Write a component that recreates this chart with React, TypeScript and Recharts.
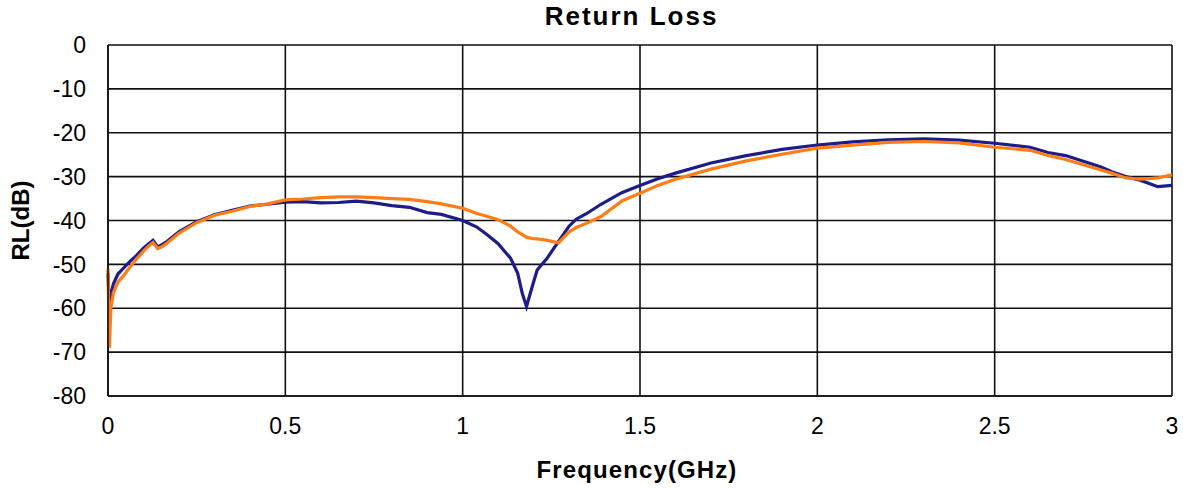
import { CartesianGrid, Line, LineChart, XAxis, YAxis } from "recharts";

const freqGHz = [
  0, 0.004, 0.008, 0.015, 0.028, 0.042, 0.062, 0.08, 0.1, 0.115, 0.127, 0.14, 0.152, 0.166, 0.2,
  0.25, 0.3, 0.35, 0.4, 0.45, 0.5, 0.55, 0.6, 0.65, 0.7, 0.75, 0.8, 0.85, 0.9, 0.94, 1.0, 1.04,
  1.07, 1.1, 1.135, 1.155, 1.168, 1.18, 1.196, 1.21, 1.238, 1.27, 1.3, 1.32, 1.35, 1.39, 1.45,
  1.5, 1.55, 1.6, 1.7, 1.8, 1.9, 2.0, 2.1, 2.2, 2.3, 2.4, 2.5, 2.6, 2.65, 2.7, 2.8, 2.83, 2.87,
  2.91, 2.96, 3.0,
];

const rlBlue = [
  -52, -60, -57, -54.5, -52.2, -51, -49.3, -48, -46.3, -45.3, -44.5, -46, -45.5, -44.8, -42.6,
  -40.3, -38.7, -37.7, -36.7, -36.3, -35.8, -35.7, -36, -35.9, -35.6, -36, -36.6, -37, -38.2,
  -38.6, -40, -41.5, -43.3, -45.3, -48.6, -52, -56.6, -59.6, -55.1, -51.3, -48.6, -44.8, -41.3,
  -39.7, -38.4, -36.3, -33.6, -32, -30.5, -29.2, -26.9, -25.2, -23.8, -22.8, -22.1, -21.6,
  -21.4, -21.7, -22.4, -23.3, -24.5, -25.2, -27.8, -28.9, -30, -30.8, -32.3, -32,
];

const rlOrange = [
  -51, -69, -60, -56.5, -54, -52.8, -50.6, -48.8, -47, -45.8, -45, -46.4, -46, -45.2, -42.9,
  -40.5, -38.8, -37.9, -36.8, -36.2, -35.3, -35.1, -34.8, -34.6, -34.6, -34.8, -35, -35.2,
  -35.7, -36.2, -37.2, -38.4, -39.1, -39.8, -41.3, -42.6, -43.2, -43.8, -44.1, -44.2, -44.5,
  -45.1, -42.6, -41.6, -40.6, -39.1, -35.5, -33.8, -32, -30.6, -28.3, -26.4, -24.9, -23.5,
  -22.8, -22.2, -22, -22.3, -23.3, -24, -25.2, -26.1, -28.5, -29.2, -30.3, -30.6, -30.3, -29.6,
];

const freqTicks = [0, 0.5, 1, 1.5, 2, 2.5, 3];
const rlTicks = [-80, -70, -60, -50, -40, -30, -20, -10, 0];

const data = freqGHz.map((f, i) => ({ f, blue: rlBlue[i], orange: rlOrange[i] }));

const font = "'Liberation Sans', Arial, sans-serif";

function YLabel(props: any) {
  const { viewBox } = props;
  const cy = viewBox.y + viewBox.height / 2;
  return (
    <text
      x={29}
      y={cy}
      transform={`rotate(-90 29 ${cy})`}
      textAnchor="middle"
      fontFamily={font}
      fontWeight="bold"
      fontSize={24}
      fill="#000"
    >
      RL(dB)
    </text>
  );
}

function XLabel() {
  return (
    <text
      x={637}
      y={478}
      textAnchor="middle"
      fontFamily={font}
      fontWeight="bold"
      fontSize={24}
      letterSpacing={1.1}
      fill="#000"
    >
      Frequency(GHz)
    </text>
  );
}

export default function App() {
  return (
    <div style={{ position: "absolute", left: 0, top: 0, width: 1183, height: 488, background: "#fff" }}>
      <div
        style={{
          position: "absolute",
          left: 0,
          width: 1263,
          top: 1,
          textAlign: "center",
          fontFamily: font,
          fontWeight: "bold",
          fontSize: 26,
          letterSpacing: 2,
          color: "#000",
        }}
      >
        Return Loss
      </div>
      <LineChart width={1183} height={488} data={data} margin={{ top: 45, right: 11, bottom: 0, left: 0 }}>
        <CartesianGrid stroke="#111" strokeWidth={1.6} />
        <XAxis
          dataKey="f"
          type="number"
          domain={[0, 3]}
          ticks={freqTicks}
          height={92}
          tickSize={0}
          tickMargin={22}
          stroke="#111"
          strokeWidth={1.6}
          tick={{ fill: "#000", fontSize: 23, fontFamily: font }}
          label={<XLabel />}
        />
        <YAxis
          type="number"
          domain={[-80, 0]}
          ticks={rlTicks}
          width={108}
          tickSize={0}
          tickMargin={22}
          stroke="#111"
          strokeWidth={1.6}
          tick={{ fill: "#000", fontSize: 23, fontFamily: font }}
          label={<YLabel />}
        />
        <Line dataKey="blue" type="linear" stroke="#1c1c8a" strokeWidth={3.2} dot={false} isAnimationActive={false} />
        <Line dataKey="orange" type="linear" stroke="#ff7d14" strokeWidth={3.2} dot={false} isAnimationActive={false} />
      </LineChart>
    </div>
  );
}
